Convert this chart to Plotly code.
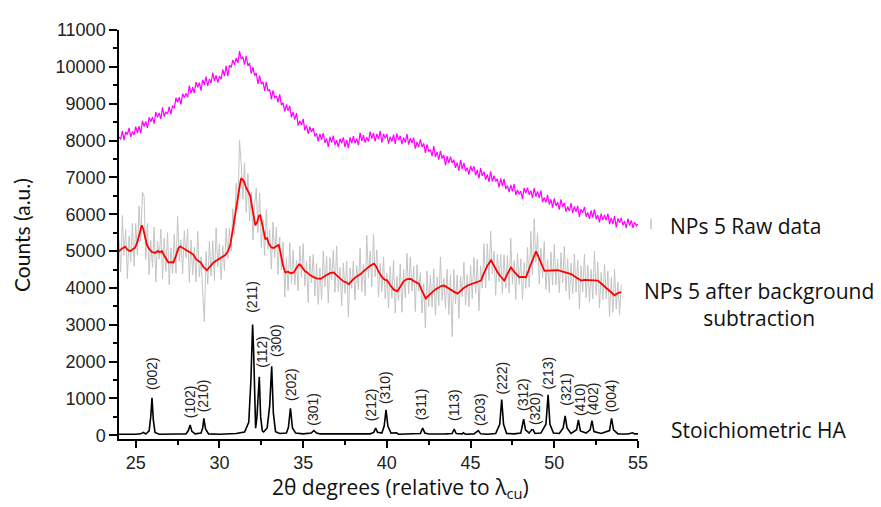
import plotly.graph_objects as go

# ---------------- data ----------------
# Raw data (magenta), sampled every 0.1 deg from 24.0 to 55.0
raw_start, raw_step = 24.0, 0.1
raw_counts = [
 8100,8030,8260,8010,8240,8160,8346,8102,8248,8154,
 8380,8204,8388,8202,8536,8380,8520,8340,8630,8510,
 8640,8460,8770,8630,8750,8580,8900,8650,8780,8720,
 8920,8710,8950,8870,9160,9040,9180,8980,9270,9170,
 9280,9174,9488,9282,9446,9290,9584,9448,9572,9356,
 9650,9512,9734,9486,9668,9560,9846,9622,9768,9574,
 9750,9664,9928,9752,10026,9750,10046,9982,10188,10054,
 10240,10100,10430,10210,10280,10060,10300,10025,10100,9815,
 9990,9760,9830,9540,9760,9530,9590,9350,9590,9340,
 9390,9120,9360,9150,9210,9040,9256,8962,9028,8794,
 8980,8806,8942,8628,8774,8570,8742,8404,8536,8418,
 8590,8276,8412,8178,8374,8230,8340,8110,8200,7980,
 8180,8020,8200,7940,8050,7830,8102,7944,8136,7878,
 8010,7824,8048,7922,8086,7820,8012,7794,8086,7928,
 8120,7922,8054,7876,8208,7990,8146,7942,8088,7974,
 8240,8050,8210,7980,8180,8040,8260,7940,8180,8060,
 8180,7918,8106,7974,8162,7910,8196,8012,8128,7904,
 8080,7946,8182,7888,8064,7930,8080,7780,7960,7820,
 8030,7826,7922,7668,7894,7700,7754,7578,7852,7556,
 7690,7484,7718,7512,7606,7330,7578,7386,7564,7392,
 7480,7260,7400,7180,7470,7230,7392,7164,7266,7078,
 7310,7166,7302,7058,7204,6970,7252,7044,7156,6938,
 7080,6876,7162,6888,7044,6890,6958,6726,6974,6762,
 6960,6684,6778,6602,6796,6620,6816,6522,6658,6544,
 6630,6412,6714,6576,6718,6530,6640,6440,6710,6480,
 6620,6446,6642,6328,6454,6320,6522,6264,6406,6178,
 6430,6224,6328,6122,6406,6200,6306,6072,6208,6084,
 6300,6036,6212,6068,6224,5930,6136,6042,6198,5934,
 6050,5876,6102,5908,6134,5860,5978,5776,6014,5842,
 5980,5838,6016,5734,5902,5730,5952,5644,5886,5768,
 5900,5702,5814,5626,5878,5690,5834,5628,5782,5686,
 5740,
]

# After background subtraction (grey), sampled every 0.1 deg from 24.0 to 54.0
bkg_start, bkg_step = 24.0, 0.1
bkg_counts = [
 5300,4435,5965,4890,5585,4250,5415,4710,5750,4590,
 5750,4890,6230,5280,6600,6480,4770,5750,4360,5290,
 4560,5650,4155,5270,4785,5595,4250,5350,4450,5500,
 4090,5090,4390,5450,4400,5940,4720,5310,4380,5550,
 4820,5600,4150,5300,4350,5100,4160,5540,4300,4840,
 3880,3080,4990,4100,5260,4320,5280,4200,5630,4570,
 5200,4230,5150,4470,5620,4800,5620,5000,6150,5450,
 6850,6150,8000,7350,6400,7400,6050,7100,5820,6600,
 5300,6250,6700,5500,6570,5100,5850,4880,6120,5050,
 5580,4510,5790,4820,5650,4370,5380,4480,5250,3750,
 4820,3920,5230,4120,5020,4080,4750,3920,5140,4280,
 5200,4050,4720,3600,4870,4140,4910,3780,4660,3550,
 4545,3670,5000,4030,4860,3590,4810,4220,5020,3880,
 5140,3900,4560,3520,4680,3850,4730,3210,4540,3990,
 4730,3670,4610,3950,5075,3900,4640,3790,5430,4270,
 5000,4030,5460,4300,5030,3750,4670,3900,4840,3710,
 4400,3450,4580,3720,4760,3320,4310,3660,4650,3340,
 4500,3730,4940,3845,4845,3920,4590,3360,4630,3910,
 4420,3320,4120,2920,4460,3500,4340,3480,4520,3260,
 4300,3520,4840,3660,4265,3440,4510,3280,4360,2680,
 4500,3570,4350,3180,4320,3760,4700,3530,4360,3480,
 4600,3710,4830,3850,4770,3380,4600,4000,5200,4000,
 5200,4200,5550,4380,5000,3800,4920,4170,4910,3850,
 4900,3990,4880,3870,5350,4100,4740,3690,4940,4090,
 4790,3690,4690,3990,5100,4020,5540,4360,5880,4695,
 5500,4100,5080,4270,5265,3965,4770,3870,4975,4075,
 5180,4080,4780,3870,4955,4140,5130,3915,4800,3690,
 4675,3845,4920,3890,4760,3430,4600,3900,4920,3730,
 4620,3610,4500,3700,5000,3800,4700,3460,4420,3680,
 4640,3700,4460,3220,4280,3340,4500,3430,4160,3280,
 4090,
]

# Smoothed curve (red)
smooth_2theta = [
 24.0,24.15,24.36,24.5,24.66,24.8,24.96,25.1,25.25,25.36,25.45,25.55,25.66,25.8,25.95,
 26.16,26.3,26.45,26.56,26.7,26.85,26.95,27.1,27.25,27.4,27.55,27.65,27.8,27.95,28.15,
 28.3,28.45,28.6,28.75,28.9,29.05,29.25,29.4,29.55,29.65,29.8,30.0,30.2,30.35,30.5,
 30.65,30.8,30.95,31.1,31.24,31.3,31.45,31.6,31.75,31.84,31.95,32.05,32.14,32.25,32.35,
 32.44,32.55,32.65,32.74,32.84,32.95,33.1,33.24,33.35,33.54,33.65,33.8,33.94,34.1,34.25,
 34.44,34.6,34.75,34.84,35.0,35.1,35.24,35.4,35.6,35.8,36.04,36.2,36.4,36.6,36.83,
 37.0,37.2,37.4,37.55,37.73,37.9,38.1,38.3,38.43,38.6,38.8,39.0,39.23,39.35,39.5,
 39.7,39.85,40.03,40.2,40.4,40.63,40.8,41.0,41.2,41.43,41.6,41.75,41.92,42.1,42.32,
 42.5,42.7,42.9,43.1,43.25,43.42,43.6,43.8,44.0,44.22,44.4,44.6,44.82,45.0,45.2,
 45.4,45.62,45.8,46.0,46.22,46.4,46.62,46.8,47.01,47.2,47.41,47.6,47.75,47.91,48.1,
 48.31,48.5,48.7,48.91,49.05,49.2,49.41,49.6,49.8,50.0,50.21,50.4,50.6,50.8,51.01,
 51.2,51.4,51.6,51.8,52.0,52.2,52.4,52.6,52.8,53.0,53.2,53.4,53.6,53.8,54.0,
]
smooth_counts = [
 4995,5060,5120,5040,4995,5050,5090,5250,5480,5700,5600,5350,5180,5060,4980,
 4950,5000,4970,5000,4880,4740,4690,4700,4690,4870,5080,5130,5090,5060,4995,
 4950,4900,4780,4730,4680,4560,4480,4560,4640,4690,4740,4790,4850,4890,4990,
 5170,5580,6055,6500,6850,6980,6900,6720,6600,6500,6200,5900,5700,5780,5950,
 5970,5700,5450,5330,5350,5200,5100,5085,5120,5170,4950,4600,4420,4440,4400,
 4420,4540,4640,4620,4500,4460,4420,4350,4300,4260,4245,4300,4350,4400,4420,
 4340,4250,4180,4160,4100,4190,4280,4340,4375,4450,4530,4600,4660,4590,4450,
 4300,4230,4200,4070,3960,3910,4050,4180,4240,4245,4190,4150,4110,3920,3715,
 3800,3880,3960,4010,4050,4065,4010,3960,3900,3845,3920,4000,4065,4100,4130,
 4170,4200,4400,4600,4750,4600,4420,4310,4200,4380,4555,4440,4370,4290,4300,
 4290,4520,4760,4995,4850,4680,4465,4470,4475,4470,4480,4455,4430,4400,4375,
 4320,4260,4200,4220,4220,4200,4210,4200,4120,4040,3960,3880,3800,3860,3890,
]

# Stoichiometric HA reference pattern (black)
ha_2theta = [
 24.0,24.5,25.0,25.3,25.45,25.6,25.8,25.9,25.97,26.05,26.15,26.4,27.0,27.5,28.0,
 28.14,28.25,28.35,28.55,28.9,29.0,29.07,29.17,29.35,30.0,30.5,31.0,31.5,31.75,31.88,
 31.98,32.04,32.09,32.16,32.24,32.32,32.38,32.46,32.56,32.64,32.85,33.0,33.12,33.22,33.35,
 33.6,34.0,34.12,34.24,34.36,34.55,35.0,35.48,35.64,35.8,36.0,37.0,38.0,39.0,39.22,
 39.33,39.44,39.7,39.84,39.95,40.06,40.25,40.5,40.57,40.7,41.5,42.0,42.14,42.27,42.5,
 43.0,43.5,43.9,44.02,44.14,44.5,44.56,44.7,45.2,45.46,45.6,46.0,46.5,46.74,46.86,
 46.97,47.15,47.6,48.0,48.08,48.17,48.28,48.5,48.65,48.73,48.85,49.2,49.5,49.63,49.74,
 49.95,50.3,50.53,50.65,50.76,51.0,51.33,51.44,51.56,51.9,52.14,52.25,52.37,52.8,53.3,
 53.42,53.54,53.8,54.4,54.68,54.8,55.0,
]
ha_counts = [
 30,20,30,40,80,35,120,520,1015,420,80,30,25,35,40,
 130,283,110,40,60,200,460,170,40,30,40,50,90,350,1500,
 3005,2300,1600,195,500,1300,1590,500,120,90,200,800,1875,600,100,
 50,60,220,735,200,60,40,60,130,60,40,30,40,40,80,
 195,80,60,250,690,250,60,60,70,30,30,50,195,60,35,
 30,40,50,170,50,40,70,30,40,130,40,30,50,300,970,
 300,50,40,60,220,440,150,60,150,150,50,60,300,1100,300,
 60,50,200,530,200,50,150,415,120,60,150,400,100,50,130,
 460,150,40,35,70,40,40,
]

# Miller-index labels
hkl_labels = ["(002)","(102)","(210)","(211)","(112)","(300)","(202)","(301)","(212)","(310)",
              "(311)","(113)","(203)","(222)","(312)","(320)","(213)","(321)","(410)","(402)","(004)"]
hkl_2theta = [25.97,28.25,29.07,31.98,32.54,33.34,34.24,35.57,39.07,39.93,
              42.02,43.98,45.56,46.86,48.17,48.85,49.6,50.65,51.53,52.32,53.44]
hkl_base = [1190,400,580,3260,1780,2070,875,210,320,800,
            345,320,210,1060,610,210,1190,740,480,480,580]

x_ticks = [25, 30, 35, 40, 45, 50, 55]
y_ticks = list(range(0, 11001, 1000))

# ---------------- figure ----------------
raw_x = [round(raw_start + i * raw_step, 2) for i in range(len(raw_counts))]
bkg_x = [round(bkg_start + i * bkg_step, 2) for i in range(len(bkg_counts))]

fig = go.Figure()
fig.add_trace(go.Scatter(x=raw_x, y=raw_counts, mode="lines",
                         line=dict(color="#FF00FF", width=1.2), hoverinfo="skip"))
fig.add_trace(go.Scatter(x=bkg_x, y=bkg_counts, mode="lines",
                         line=dict(color="#C4C4C4", width=1), hoverinfo="skip"))
fig.add_trace(go.Scatter(x=smooth_2theta, y=smooth_counts, mode="lines",
                         line=dict(color="#FF0000", width=1.8), hoverinfo="skip"))
fig.add_trace(go.Scatter(x=ha_2theta, y=ha_counts, mode="lines",
                         line=dict(color="#000000", width=1.6), hoverinfo="skip"))

for lab, xx, yy in zip(hkl_labels, hkl_2theta, hkl_base):
    fig.add_annotation(x=xx, y=yy, xref="x", yref="y", text=lab, textangle=-90,
                       showarrow=False, xanchor="center", yanchor="bottom",
                       font=dict(family="Liberation Sans, Arial", size=14, color="#222222"))

# plot area in page pixels: x 119..638, y 20..439
PX0, PX1, PY0, PY1 = 119, 638, 20, 439
pw, ph = PX1 - PX0, PY1 - PY0


def px(x):
    return (x - PX0) / pw


def py(y):
    return (PY1 - y) / ph


side_font = dict(family="Open Sans, sans-serif", size=21, color="#111111")
fig.add_annotation(x=px(745), y=py(221), xref="paper", yref="paper", text="NPs 5 Raw data",
                   showarrow=False, font=side_font, xanchor="center", yanchor="middle")
fig.add_annotation(x=px(759), y=py(301), xref="paper", yref="paper",
                   text="NPs 5 after background<br>subtraction", align="center",
                   showarrow=False, font=side_font, xanchor="center", yanchor="middle")
fig.add_annotation(x=px(758), y=py(430), xref="paper", yref="paper", text="Stoichiometric HA",
                   showarrow=False, font=side_font, xanchor="center", yanchor="middle")

fig.add_annotation(x=px(22), y=py(230), xref="paper", yref="paper", text="Counts (a.u.)",
                   textangle=-90, showarrow=False,
                   font=dict(family="Lato, sans-serif", size=21, color="#111111"),
                   xanchor="center", yanchor="middle")
fig.add_annotation(x=px(400), y=py(489), xref="paper", yref="paper",
                   text="2θ degrees (relative to λ<sub>cu</sub>)",
                   showarrow=False, font=dict(family="Open Sans, sans-serif", size=21, color="#111111"),
                   xanchor="center", yanchor="middle")

fig.add_shape(type="line", xref="paper", yref="paper",
              x0=px(651), x1=px(651), y0=py(224), y1=py(213),
              line=dict(color="#C4C4C4", width=1.5))

# the page body has an 8 px margin, so the figure is placed 8 px in and made 8 px smaller
fig.update_layout(
    width=873, height=499,
    margin=dict(l=PX0 - 8, r=873 + 8 - PX1, t=PY0 - 8, b=499 + 8 - PY1),
    paper_bgcolor="white", plot_bgcolor="white",
    showlegend=False,
)

fig.update_xaxes(range=[24, 55], tickvals=x_ticks, showgrid=False, zeroline=False,
                 showline=True, linecolor="black", linewidth=1.5,
                 ticks="outside", ticklen=7, tickwidth=1.5, tickcolor="black",
                 minor=dict(dtick=2.5, ticks="outside", ticklen=4, tickwidth=1.5, tickcolor="black"),
                 tickfont=dict(family="Liberation Sans, Arial", size=18, color="#222222"))
fig.update_yaxes(range=[-100, 11000], tickvals=y_ticks, tickformat="d",
                 showgrid=False, zeroline=False,
                 showline=True, linecolor="black", linewidth=1.5,
                 ticks="outside", ticklen=8, tickwidth=1.5, tickcolor="black",
                 minor=dict(dtick=500, ticks="outside", ticklen=4, tickwidth=1.5, tickcolor="black"),
                 tickfont=dict(family="Liberation Sans, Arial", size=18, color="#222222"))

fig.write_html("out.html")
